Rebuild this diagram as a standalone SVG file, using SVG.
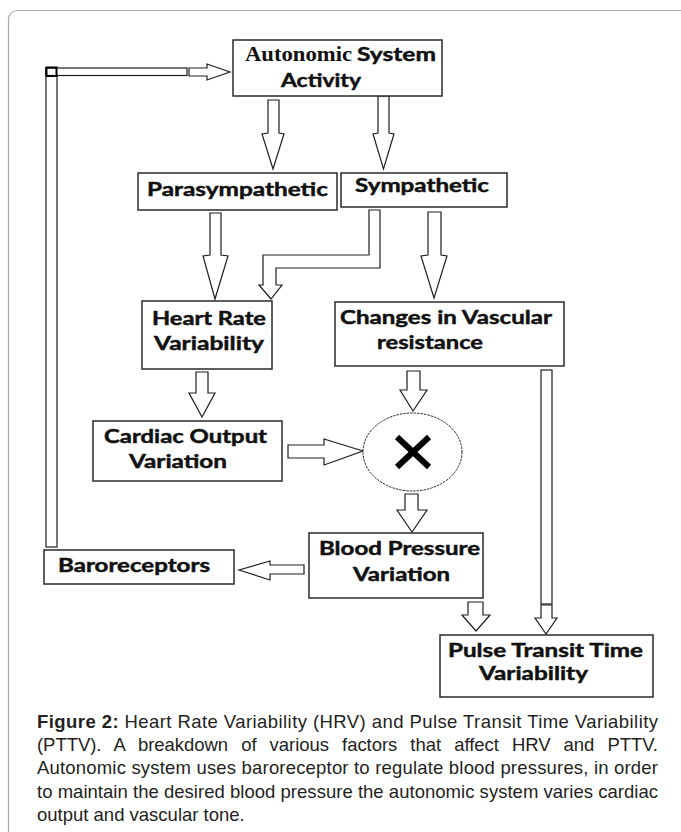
<svg xmlns="http://www.w3.org/2000/svg" width="681" height="832" viewBox="0 0 681 832">
<style>
.box{fill:#fff;stroke:#2a2a2a;stroke-width:1.5}
.arr{fill:#fff;stroke:#1e1e1e;stroke-width:1.2;stroke-linejoin:miter}
.lbl{font-family:Lato,"Open Sans","Liberation Sans",sans-serif;font-weight:700;font-size:18.5px;fill:#111;stroke:#111;stroke-width:0.45}
.ser{font-family:"Liberation Serif","DejaVu Serif",serif;font-weight:700;font-size:20px;fill:#111}
.cap{font-family:"Liberation Sans",Arial,sans-serif;font-size:18.5px;fill:#231f20}
</style>
<rect x="8.5" y="10.5" width="720" height="900" rx="9" fill="#fff" stroke="#a8a8a8" stroke-width="1.2"/>

<g id="connectors">
  <rect class="arr" x="46" y="68" width="11" height="479"/>
  <rect class="arr" x="46" y="68" width="141" height="7.5"/>
  <rect x="46.5" y="67.5" width="10" height="8.5" fill="none" stroke="#000" stroke-width="2"/>
  <polygon class="arr" points="189,68 207,68 207,64 230,72 207,80 207,76 189,76"/>
  <polygon class="arr" points="268,100 279,100 279,133 284,134 273,169 262,134 268,133"/>
  <polygon class="arr" points="378,96 389,96 389,133 394,134 383.5,169 373,134 378,133"/>
  <polygon class="arr" points="210,213 221,213 221,255 228,256 215,299 203,256 210,255"/>
  <polygon class="arr" points="369,210 380,210 380,268 276,268 276,285 282,285 271,299 259,285 263,285 263,255 369,255"/>
  <polygon class="arr" points="428,212 441,212 441,255 447,256 434,298 421,256 428,255"/>
  <polygon class="arr" points="196,372 208,372 208,393 215,393 202,417 189,393 196,393"/>
  <polygon class="arr" points="407,371 420,371 420,390 427,390 413,411 400,390 407,390"/>
  <polygon class="arr" points="288,445 324,445 324,439 363,451 324,465 324,458 288,458"/>
  <polygon class="arr" points="405,494 418,494 418,510 427,510 412,532 397,510 405,510"/>
  <polygon class="arr" points="304,565 270,565 270,561 239,570 270,580 270,574 304,574"/>
  <polygon class="arr" points="468,602 483,602 483,615 490,615 476,631 462,615 468,615"/>
  <rect class="arr" x="541" y="370" width="11" height="234"/>
  <polygon class="arr" points="541,605 552,605 552,618 557,618 546,634 535,618 541,618"/>
</g>

<g id="autonomic">
  <rect class="box" x="233" y="40" width="209" height="56"/>
  <text class="ser" x="245" y="61" textLength="107" lengthAdjust="spacingAndGlyphs">Autonomic</text>
  <text class="lbl" x="357" y="61" textLength="79" lengthAdjust="spacingAndGlyphs">System</text>
  <text class="lbl" x="281" y="87" textLength="80" lengthAdjust="spacingAndGlyphs">Activity</text>
</g>
<g id="parasympathetic">
  <rect class="box" x="138" y="173" width="199" height="37"/>
  <text class="lbl" x="147" y="196" textLength="181" lengthAdjust="spacingAndGlyphs">Parasympathetic</text>
</g>
<g id="sympathetic">
  <rect class="box" x="341" y="173" width="166" height="34"/>
  <text class="lbl" x="355" y="192" textLength="134" lengthAdjust="spacingAndGlyphs">Sympathetic</text>
</g>
<g id="hrv">
  <rect class="box" x="142" y="301" width="130" height="68"/>
  <text class="lbl" x="152" y="325" textLength="114" lengthAdjust="spacingAndGlyphs">Heart Rate</text>
  <text class="lbl" x="154" y="350" textLength="110" lengthAdjust="spacingAndGlyphs">Variability</text>
</g>
<g id="vascular">
  <rect class="box" x="335" y="302" width="229" height="64"/>
  <text class="lbl" x="340" y="324" textLength="212" lengthAdjust="spacingAndGlyphs">Changes in Vascular</text>
  <text class="lbl" x="377" y="349" textLength="106" lengthAdjust="spacingAndGlyphs">resistance</text>
</g>
<g id="cardiac-output">
  <rect class="box" x="93" y="421" width="189" height="60"/>
  <text class="lbl" x="104" y="443" textLength="163" lengthAdjust="spacingAndGlyphs">Cardiac Output</text>
  <text class="lbl" x="129" y="468" textLength="98" lengthAdjust="spacingAndGlyphs">Variation</text>
</g>
<g id="multiply">
  <ellipse cx="412.5" cy="452" rx="49.5" ry="39" fill="#fff" stroke="#222" stroke-width="1" stroke-dasharray="2.5 1"/>
  <line x1="397" y1="437" x2="429" y2="467" stroke="#000" stroke-width="6"/>
  <line x1="429" y1="437" x2="397" y2="467" stroke="#000" stroke-width="6"/>
</g>
<g id="blood-pressure">
  <rect class="box" x="309" y="533" width="174" height="65"/>
  <text class="lbl" x="319" y="555" textLength="161" lengthAdjust="spacingAndGlyphs">Blood Pressure</text>
  <text class="lbl" x="353" y="581" textLength="97" lengthAdjust="spacingAndGlyphs">Variation</text>
</g>
<g id="baroreceptors">
  <rect class="box" x="44" y="550" width="190" height="34"/>
  <text class="lbl" x="58" y="572" textLength="152" lengthAdjust="spacingAndGlyphs">Baroreceptors</text>
</g>
<g id="pttv">
  <rect class="box" x="440" y="635" width="213" height="62"/>
  <text class="lbl" x="448" y="657" textLength="195" lengthAdjust="spacingAndGlyphs">Pulse Transit Time</text>
  <text class="lbl" x="479" y="680" textLength="109" lengthAdjust="spacingAndGlyphs">Variability</text>
</g>

<g id="caption">
  <text class="cap" x="37" y="728" textLength="621" lengthAdjust="spacing"><tspan font-weight="700">Figure 2:</tspan> Heart Rate Variability (HRV) and Pulse Transit Time Variability</text>
  <text class="cap" x="37" y="751" textLength="621" lengthAdjust="spacing" word-spacing="8">(PTTV). A breakdown of various factors that affect HRV and PTTV.</text>
  <text class="cap" x="37" y="774" textLength="621" lengthAdjust="spacing">Autonomic system uses baroreceptor to regulate blood pressures, in order</text>
  <text class="cap" x="37" y="798" textLength="621" lengthAdjust="spacing">to maintain the desired blood pressure the autonomic system varies cardiac</text>
  <text class="cap" x="37" y="821">output and vascular tone.</text>
</g>
</svg>
